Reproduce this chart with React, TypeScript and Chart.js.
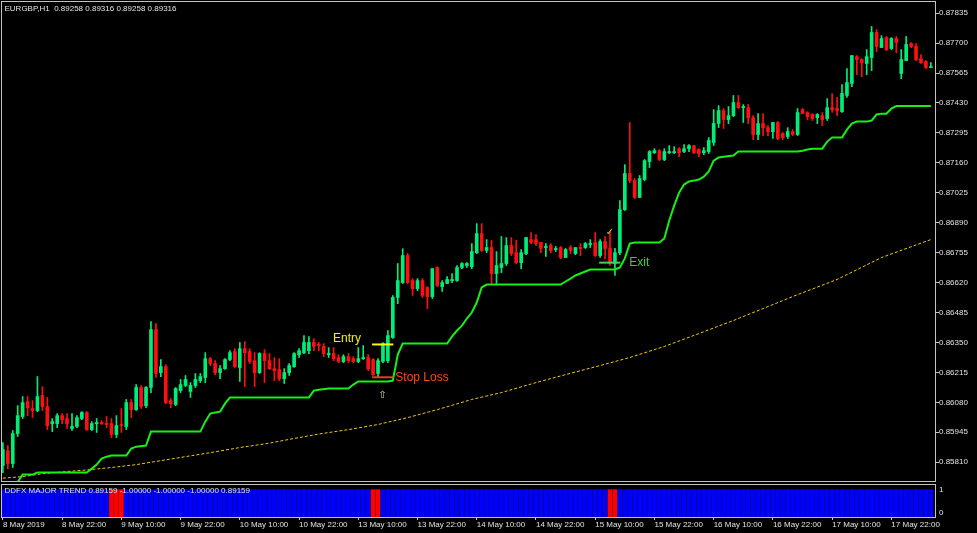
import { useEffect, useRef } from 'react';
import { Chart, registerables } from 'chart.js';
Chart.register(...registerables);

// ---------- data (EURGBP H1, one value per bar) ----------
const opens = [
  0.85795,0.85862,0.85804,0.85939,0.86016,0.86083,0.86052,0.86043,0.86111,0.86061,
  0.85984,0.85984,0.86020,0.86007,0.85962,0.85971,0.86007,0.86034,0.85957,0.85984,
  0.85989,0.85984,0.85984,0.85935,0.85980,0.85971,0.86079,0.86047,0.86147,0.86065,
  0.86147,0.86408,0.86214,0.86241,0.86088,0.86070,0.86133,0.86156,0.86129,0.86156,
  0.86178,0.86192,0.86277,0.86255,0.86214,0.86232,0.86273,0.86309,0.86237,0.86322,
  0.86309,0.86268,0.86214,0.86300,0.86268,0.86232,0.86228,0.86187,0.86214,0.86241,
  0.86295,0.86304,0.86313,0.86350,0.86341,0.86332,0.86295,0.86300,0.86282,0.86264,
  0.86286,0.86277,0.86264,0.86277,0.86282,0.86273,0.86210,0.86264,0.86268,0.86372,
  0.86553,0.86620,0.86742,0.86629,0.86593,0.86629,0.86598,0.86557,0.86688,0.86602,
  0.86616,0.86629,0.86629,0.86688,0.86697,0.86692,0.86755,0.86841,0.86765,0.86778,
  0.86661,0.86688,0.86706,0.86787,0.86755,0.86710,0.86751,0.86814,0.86814,0.86801,
  0.86778,0.86787,0.86769,0.86778,0.86733,0.86778,0.86751,0.86778,0.86778,0.86792,
  0.86801,0.86742,0.86805,0.86774,0.86706,0.86755,0.86949,0.87112,0.87080,0.87004,
  0.87085,0.87166,0.87206,0.87215,0.87175,0.87206,0.87206,0.87224,0.87211,0.87224,
  0.87238,0.87220,0.87206,0.87211,0.87252,0.87338,0.87396,0.87355,0.87373,0.87432,
  0.87409,0.87409,0.87364,0.87288,0.87337,0.87319,0.87301,0.87342,0.87292,0.87279,
  0.87301,0.87288,0.87400,0.87387,0.87378,0.87364,0.87373,0.87360,0.87409,0.87405,
  0.87391,0.87464,0.87518,0.87639,0.87626,0.87608,0.87635,0.87748,0.87680,0.87725,
  0.87676,0.87721,0.87563,0.87621,0.87698,0.87685,0.87630,0.87617,0.87590,
];
const highs = [
  0.85899,0.85885,0.85953,0.86065,0.86106,0.86106,0.86088,0.86196,0.86151,0.86102,
  0.86007,0.86029,0.86029,0.86029,0.86029,0.86020,0.86038,0.86038,0.85993,0.86007,
  0.85998,0.86016,0.86007,0.86020,0.86052,0.86093,0.86093,0.86160,0.86156,0.86151,
  0.86444,0.86435,0.86273,0.86250,0.86097,0.86147,0.86183,0.86201,0.86169,0.86210,
  0.86210,0.86304,0.86282,0.86268,0.86246,0.86277,0.86313,0.86322,0.86350,0.86354,
  0.86322,0.86304,0.86304,0.86318,0.86300,0.86282,0.86277,0.86232,0.86255,0.86304,
  0.86322,0.86381,0.86377,0.86368,0.86350,0.86345,0.86327,0.86327,0.86295,0.86295,
  0.86300,0.86286,0.86327,0.86336,0.86295,0.86277,0.86277,0.86350,0.86404,0.86562,
  0.86706,0.86773,0.86751,0.86638,0.86638,0.86638,0.86602,0.86683,0.86692,0.86629,
  0.86647,0.86661,0.86697,0.86710,0.86710,0.86796,0.86886,0.86886,0.86814,0.86810,
  0.86760,0.86828,0.86823,0.86823,0.86810,0.86769,0.86823,0.86846,0.86837,0.86801,
  0.86796,0.86796,0.86783,0.86783,0.86774,0.86787,0.86778,0.86796,0.86801,0.86814,
  0.86846,0.86814,0.86828,0.86850,0.86774,0.86990,0.87152,0.87342,0.87089,0.87103,
  0.87175,0.87215,0.87224,0.87220,0.87224,0.87238,0.87233,0.87229,0.87242,0.87242,
  0.87238,0.87224,0.87229,0.87274,0.87400,0.87418,0.87405,0.87414,0.87464,0.87464,
  0.87423,0.87423,0.87373,0.87382,0.87382,0.87328,0.87342,0.87346,0.87297,0.87319,
  0.87310,0.87405,0.87405,0.87391,0.87382,0.87382,0.87387,0.87450,0.87473,0.87455,
  0.87513,0.87585,0.87644,0.87644,0.87630,0.87671,0.87775,0.87761,0.87734,0.87730,
  0.87725,0.87730,0.87671,0.87730,0.87703,0.87698,0.87648,0.87621,0.87612,
];
const lows = [
  0.85763,0.85781,0.85786,0.85926,0.86007,0.86020,0.86011,0.86038,0.86043,0.85957,
  0.85948,0.85966,0.85984,0.85962,0.85953,0.85966,0.86002,0.85953,0.85953,0.85944,
  0.85980,0.85966,0.85921,0.85921,0.85944,0.85957,0.86011,0.86043,0.86052,0.86056,
  0.86124,0.86192,0.86196,0.86074,0.86056,0.86065,0.86124,0.86151,0.86102,0.86147,
  0.86169,0.86169,0.86246,0.86205,0.86187,0.86228,0.86268,0.86237,0.86174,0.86151,
  0.86255,0.86151,0.86210,0.86169,0.86228,0.86178,0.86178,0.86165,0.86201,0.86237,
  0.86282,0.86300,0.86300,0.86313,0.86313,0.86286,0.86282,0.86268,0.86259,0.86259,
  0.86259,0.86259,0.86259,0.86273,0.86223,0.86201,0.86196,0.86259,0.86259,0.86368,
  0.86525,0.86616,0.86616,0.86562,0.86584,0.86553,0.86503,0.86548,0.86602,0.86580,
  0.86616,0.86620,0.86625,0.86683,0.86688,0.86683,0.86751,0.86760,0.86755,0.86616,
  0.86616,0.86665,0.86697,0.86742,0.86706,0.86683,0.86746,0.86796,0.86787,0.86755,
  0.86738,0.86755,0.86760,0.86728,0.86733,0.86751,0.86746,0.86742,0.86774,0.86778,
  0.86738,0.86733,0.86728,0.86697,0.86652,0.86746,0.86945,0.87071,0.86999,0.87004,
  0.87080,0.87139,0.87202,0.87170,0.87170,0.87202,0.87202,0.87188,0.87206,0.87211,
  0.87202,0.87188,0.87197,0.87202,0.87238,0.87319,0.87315,0.87337,0.87369,0.87405,
  0.87342,0.87337,0.87265,0.87265,0.87283,0.87283,0.87270,0.87265,0.87265,0.87270,
  0.87283,0.87283,0.87382,0.87355,0.87351,0.87337,0.87328,0.87351,0.87387,0.87373,
  0.87387,0.87455,0.87504,0.87558,0.87549,0.87558,0.87576,0.87662,0.87680,0.87666,
  0.87671,0.87657,0.87540,0.87621,0.87680,0.87621,0.87608,0.87585,0.87590,
];
const closes = [
  0.85867,0.85804,0.85939,0.86020,0.86079,0.86056,0.86043,0.86106,0.86061,0.85975,
  0.85993,0.86020,0.86002,0.85984,0.85971,0.86011,0.86034,0.85957,0.85984,0.85989,
  0.85984,0.85980,0.85935,0.85975,0.85975,0.86079,0.86047,0.86147,0.86061,0.86147,
  0.86408,0.86210,0.86241,0.86079,0.86074,0.86142,0.86160,0.86183,0.86156,0.86183,
  0.86196,0.86277,0.86255,0.86214,0.86232,0.86273,0.86304,0.86241,0.86322,0.86304,
  0.86264,0.86214,0.86300,0.86268,0.86232,0.86223,0.86187,0.86214,0.86246,0.86300,
  0.86313,0.86350,0.86350,0.86332,0.86336,0.86300,0.86300,0.86277,0.86264,0.86286,
  0.86268,0.86264,0.86277,0.86282,0.86232,0.86205,0.86268,0.86345,0.86381,0.86553,
  0.86629,0.86742,0.86620,0.86593,0.86629,0.86562,0.86557,0.86683,0.86607,0.86620,
  0.86634,0.86634,0.86688,0.86706,0.86706,0.86760,0.86841,0.86765,0.86778,0.86661,
  0.86697,0.86706,0.86787,0.86751,0.86710,0.86755,0.86823,0.86801,0.86796,0.86774,
  0.86783,0.86765,0.86774,0.86733,0.86769,0.86765,0.86778,0.86774,0.86796,0.86796,
  0.86742,0.86805,0.86774,0.86706,0.86755,0.86949,0.87112,0.87080,0.87004,0.87089,
  0.87170,0.87211,0.87215,0.87175,0.87211,0.87211,0.87211,0.87206,0.87224,0.87238,
  0.87206,0.87202,0.87215,0.87261,0.87338,0.87396,0.87355,0.87373,0.87432,0.87409,
  0.87414,0.87364,0.87288,0.87337,0.87319,0.87301,0.87342,0.87270,0.87274,0.87301,
  0.87288,0.87387,0.87382,0.87369,0.87360,0.87378,0.87355,0.87409,0.87400,0.87396,
  0.87473,0.87522,0.87644,0.87626,0.87612,0.87639,0.87748,0.87685,0.87721,0.87671,
  0.87721,0.87703,0.87626,0.87694,0.87685,0.87626,0.87612,0.87590,0.87594,
];

// trailing stop (green) line: bar index -> price at each vertex
const stopBars = [3,4,6,7,17,18,19,20,21,22,25,26,27,29,30,40,41,42,43,44,45,46,62,63,64,66,70,71,72,78,79,80,81,90,91,92,93,94,95,96,97,98,113,114,115,116,117,118,119,124,125,126,127,128,133,134,135,136,137,138,139,140,141,142,143,144,145,146,148,149,161,162,163,164,166,167,168,170,171,172,173,175,176,177,178,179,180,181,188];
const stopValues = [0.85720,0.85754,0.85754,0.85763,0.85763,0.85781,0.85799,0.85826,0.85835,0.85840,0.85840,0.85871,0.85880,0.85885,0.85948,0.85948,0.85993,0.86029,0.86034,0.86038,0.86074,0.86102,0.86102,0.86133,0.86137,0.86142,0.86142,0.86160,0.86174,0.86174,0.86178,0.86295,0.86345,0.86345,0.86377,0.86404,0.86426,0.86458,0.86485,0.86530,0.86598,0.86611,0.86611,0.86625,0.86638,0.86652,0.86661,0.86670,0.86679,0.86679,0.86688,0.86729,0.86796,0.86801,0.86801,0.86819,0.86900,0.86967,0.87026,0.87062,0.87076,0.87080,0.87085,0.87098,0.87121,0.87170,0.87184,0.87188,0.87193,0.87211,0.87211,0.87215,0.87220,0.87224,0.87224,0.87256,0.87274,0.87274,0.87310,0.87337,0.87346,0.87346,0.87351,0.87378,0.87382,0.87382,0.87405,0.87416,0.87416];

// moving average (yellow dotted) line
const maBars = [0,4,8,13,17,22,27,32,37,42,48,54,59,64,70,76,82,88,95,101,108,114,121,127,134,141,148,154,160,169,178,188];
const maValues = [0.85738,0.85745,0.85758,0.85768,0.85775,0.85786,0.85799,0.85817,0.85835,0.85853,0.85876,0.85896,0.85917,0.85937,0.85957,0.85980,0.86011,0.86047,0.86093,0.86124,0.86169,0.86205,0.86246,0.86282,0.86332,0.86390,0.86449,0.86503,0.86557,0.86634,0.86733,0.86814];

// DDFX major trend histogram: bars flagged bearish (others bullish)
const bearishTrendBars = [22, 23, 24, 75, 76, 123, 124];

// trade marks
const entryLineBars = [74.8, 79.1];
const entryPrice = 0.86341;
const stopLossPrice = 0.86193;
const exitLineBars = [120.8, 125.1];
const exitPrice = 0.86710;
const markTexts = ['Entry', 'Stop Loss', 'Exit'];
const markBars = [66.9, 79.5, 126.9];
const markPrices = [0.86365, 0.86190, 0.86708];
const markColors = ['#f0f000', '#ff4a1a', '#3fcc3f'];
const symbolTexts = ['\u21E7', '\u2713'];
const symbolBars = [76.9, 123.0];
const symbolPrices = [0.86113, 0.86846];
const symbolColors = ['#e6d38a', '#d9c43a'];

// axes
const priceTicks = [0.85810,0.85945,0.86080,0.86215,0.86350,0.86485,0.86620,0.86755,0.86890,0.87025,0.87160,0.87295,0.87430,0.87565,0.87700,0.87835];
const timeTickBars = [0,12,24,36,48,60,72,84,96,108,120,132,144,156,168,180];
const timeLabels = ['8 May 2019','8 May 22:00','9 May 10:00','9 May 22:00','10 May 10:00','10 May 22:00','13 May 10:00','13 May 22:00','14 May 10:00','14 May 22:00','15 May 10:00','15 May 22:00','16 May 10:00','16 May 22:00','17 May 10:00','17 May 22:00'];
const levelTicks = [0.16, 1];
const levelLabels = ['0', '1'];
const headerText = 'EURGBP,H1  0.89258 0.89316 0.89258 0.89316';
const subHeaderText = 'DDFX MAJOR TREND 0.89159 -1.00000 -1.00000 -1.00000 0.89159';

// ---------- styling ----------
const BULL = '#00ee78';
const BEAR = '#ff1010';
const AXIS = '#c4c4c4';
const TEXT = '#e2e2e2';
const FONT = '"Liberation Sans", Arial, sans-serif';
const X_MIN = -0.18;
const X_MAX = 188.84;

const framePlugin = (header: string, headerY: number) => ({
  id: 'frame' + headerY,
  afterDraw(chart: any) {
    const { ctx, chartArea: a } = chart;
    ctx.save();
    ctx.strokeStyle = AXIS;
    ctx.lineWidth = 1;
    ctx.strokeRect(a.left - 0.5, a.top - 0.5, a.right - a.left + 1, a.bottom - a.top + 1);
    ctx.font = `8px ${FONT}`;
    ctx.fillStyle = TEXT;
    ctx.textBaseline = 'middle';
    ctx.fillText(header, 4.5, headerY);
    ctx.restore();
  },
});

const marksPlugin = {
  id: 'marks',
  afterDatasetsDraw(chart: any) {
    const { ctx } = chart;
    const xs = chart.scales.x;
    const ys = chart.scales.y;
    ctx.save();
    ctx.textBaseline = 'middle';
    ctx.textAlign = 'left';
    ctx.font = `12px ${FONT}`;
    markTexts.forEach((t, i) => {
      ctx.fillStyle = markColors[i];
      ctx.fillText(t, xs.getPixelForValue(markBars[i]), ys.getPixelForValue(markPrices[i]));
    });
    ctx.textAlign = 'center';
    ctx.font = `10px "DejaVu Sans", sans-serif`;
    symbolTexts.forEach((t, i) => {
      ctx.fillStyle = symbolColors[i];
      ctx.fillText(t, xs.getPixelForValue(symbolBars[i]), ys.getPixelForValue(symbolPrices[i]));
    });
    ctx.restore();
  },
};

export default function App() {
  const mainRef = useRef<HTMLCanvasElement>(null);
  const subRef = useRef<HTMLCanvasElement>(null);

  useEffect(() => {
    const bars = opens.map((_, i) => i);
    const candleColor = (ctx: any) => (closes[ctx.dataIndex] >= opens[ctx.dataIndex] ? BULL : BEAR);

    const main = new Chart(mainRef.current as HTMLCanvasElement, {
      type: 'bar',
      data: {
        datasets: [
          {
            type: 'line', label: 'Entry', order: 0,
            data: entryLineBars.map((x) => ({ x, y: entryPrice })),
            borderColor: '#ffff00', borderWidth: 2, pointRadius: 0,
          },
          {
            type: 'line', label: 'Stop Loss', order: 0,
            data: entryLineBars.map((x) => ({ x, y: stopLossPrice })),
            borderColor: '#e0401a', borderWidth: 2, pointRadius: 0,
          },
          {
            type: 'line', label: 'Exit', order: 0,
            data: exitLineBars.map((x) => ({ x, y: exitPrice })),
            borderColor: '#4ccc4c', borderWidth: 2, pointRadius: 0,
          },
          {
            type: 'line', label: 'Trailing stop', order: 1,
            data: stopBars.map((x, i) => ({ x, y: stopValues[i] })),
            borderColor: '#16f016', borderWidth: 2, pointRadius: 0, tension: 0,
          },
          {
            type: 'line', label: 'MA', order: 2,
            data: maBars.map((x, i) => ({ x, y: maValues[i] })),
            borderColor: '#f2c619', borderWidth: 1, borderDash: [3, 2], pointRadius: 0, tension: 0,
          },
          {
            type: 'bar', label: 'body', order: 3,
            data: bars.map((i) => ({ x: i, y: [opens[i], closes[i]] })),
            backgroundColor: candleColor, barThickness: 3, grouped: false, minBarLength: 1, borderWidth: 0,
          },
          {
            type: 'bar', label: 'wick', order: 4,
            data: bars.map((i) => ({ x: i, y: [lows[i], highs[i]] })),
            backgroundColor: candleColor, barThickness: 1, grouped: false, minBarLength: 1, borderWidth: 0,
          },
        ],
      } as any,
      options: {
        animation: false,
        responsive: false,
        maintainAspectRatio: false,
        layout: { padding: { left: 2, top: 2, right: 0, bottom: 2 } },
        plugins: { legend: { display: false }, tooltip: { enabled: false } },
        scales: {
          x: { type: 'linear', min: X_MIN, max: X_MAX, display: false, offset: false, grid: { display: false } },
          y: {
            type: 'linear', position: 'right', min: 0.857252, max: 0.878855,
            afterFit: (s: any) => { s.width = 42; s.paddingTop = 0; s.paddingBottom = 0; },
            afterBuildTicks: (s: any) => { s.ticks = priceTicks.map((v) => ({ value: v })); },
            ticks: {
              autoSkip: false, padding: 0, color: TEXT, font: { family: FONT, size: 8 },
              callback: (v: any) => Number(v).toFixed(5),
            },
            grid: { drawOnChartArea: false, drawTicks: true, tickLength: 4, color: AXIS },
            border: { display: false },
          },
        },
      } as any,
      plugins: [framePlugin(headerText, 8.5), marksPlugin],
    });

    const sub = new Chart(subRef.current as HTMLCanvasElement, {
      type: 'bar',
      data: {
        datasets: [
          {
            label: 'DDFX MAJOR TREND',
            data: bars.map((i) => ({ x: i, y: 1 })),
            backgroundColor: bars.map((i) => (bearishTrendBars.includes(i) ? '#ff0000' : '#0000ff')),
            barThickness: 4, grouped: false, borderWidth: 0,
          },
        ],
      } as any,
      options: {
        animation: false,
        responsive: false,
        maintainAspectRatio: false,
        layout: { padding: { left: 2, top: 2, right: 0, bottom: 0 } },
        plugins: { legend: { display: false }, tooltip: { enabled: false } },
        scales: {
          x: {
            type: 'linear', min: X_MIN, max: X_MAX, offset: false, position: 'bottom',
            afterFit: (s: any) => { s.height = 16; s.paddingLeft = 0; s.paddingRight = 0; },
            afterBuildTicks: (s: any) => { s.ticks = timeTickBars.map((v) => ({ value: v })); },
            ticks: {
              autoSkip: false, maxRotation: 0, minRotation: 0, align: 'start', padding: 0,
              color: TEXT, font: { family: FONT, size: 8 },
              callback: (_v: any, i: number) => timeLabels[i],
            },
            grid: { drawOnChartArea: false, drawTicks: true, tickLength: 3, color: AXIS, offset: false },
            border: { display: false },
          },
          y: {
            type: 'linear', position: 'right', min: 0, max: 1.17,
            afterFit: (s: any) => { s.width = 42; s.paddingTop = 0; s.paddingBottom = 0; },
            afterBuildTicks: (s: any) => { s.ticks = levelTicks.map((v) => ({ value: v })); },
            ticks: {
              autoSkip: false, padding: 4, color: TEXT, font: { family: FONT, size: 8 },
              callback: (_v: any, i: number) => levelLabels[i],
            },
            grid: { drawOnChartArea: false, drawTicks: false },
            border: { display: false },
          },
        },
      } as any,
      plugins: [framePlugin(subHeaderText, 8)],
    });

    return () => {
      main.destroy();
      sub.destroy();
    };
  }, []);

  return (
    <div style={{ position: 'fixed', left: 0, top: 0, width: 977, height: 533, background: '#000', overflow: 'hidden' }}>
      <canvas ref={mainRef} width={977} height={483} style={{ position: 'absolute', left: 0, top: 0, width: 977, height: 483 }} />
      <canvas ref={subRef} width={977} height={50} style={{ position: 'absolute', left: 0, top: 483, width: 977, height: 50 }} />
    </div>
  );
}
